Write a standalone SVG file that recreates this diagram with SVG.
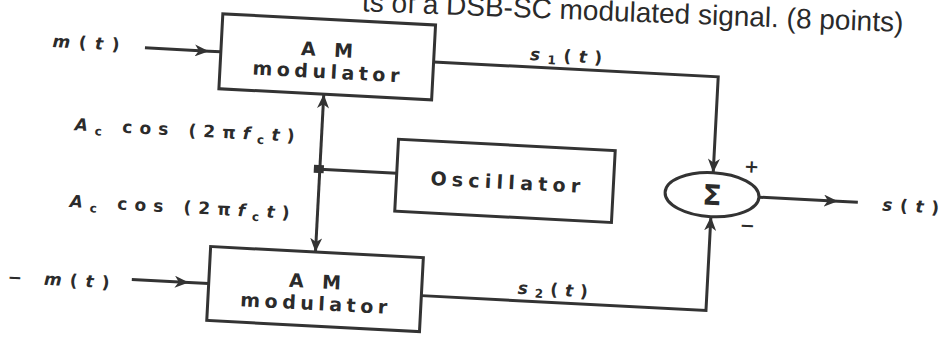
<svg xmlns="http://www.w3.org/2000/svg" width="946" height="338" viewBox="0 0 946 338">
<defs>
<style>
.box{fill:#fff;stroke:#333;stroke-width:3}
.ln{fill:none;stroke:#333;stroke-width:3}
.blk{font-family:"DejaVu Sans",sans-serif;font-weight:bold;font-size:19px;fill:#2b2b2b;text-anchor:middle}
.lbl{font-family:"DejaVu Sans",sans-serif;font-weight:bold;font-size:17px;fill:#2b2b2b;text-anchor:middle}
.it{font-style:italic}
.sub{font-size:12px}
.title{font-family:"Liberation Sans",Arial,sans-serif;font-size:28px;fill:#2a2a2a;text-anchor:end}
</style>
<marker id="arr" viewBox="0 0 14 12" refX="14" refY="6" markerWidth="14" markerHeight="12" markerUnits="userSpaceOnUse" orient="auto">
<path d="M0,0 L14,6 L0,12 L4,6 Z" fill="#333"/>
</marker>
<marker id="arrs" viewBox="0 0 14 12" refX="14" refY="6" markerWidth="14" markerHeight="12" markerUnits="userSpaceOnUse" orient="auto-start-reverse">
<path d="M0,0 L14,6 L0,12 L4,6 Z" fill="#333"/>
</marker>
</defs>
<rect width="946" height="338" fill="#fff"/>
<text class="title" x="903" y="32" transform="rotate(2.2 903 32)">ts of a DSB-SC modulated signal. (8 points)</text>
<g transform="rotate(3 470 170)">
<g id="connectors">
<path class="ln" d="M139,65 L203,65 L215,65" marker-mid="url(#arr)"/>
<path class="ln" d="M138,297 L195,297 L215,297" marker-mid="url(#arr)"/>
<path class="ln" d="M320,102 L320,260" marker-start="url(#arrs)" marker-end="url(#arrs)"/>
<path class="ln" d="M397,177 L320,177"/>
<rect x="314" y="173" width="10" height="8" fill="#333"/>
<path class="ln" d="M428,64 L713,64 L713,160" marker-end="url(#arr)"/>
<path class="ln" d="M428,298 L713,298 L713,204" marker-end="url(#arr)"/>
<path class="ln" d="M760,182 L839,182 L859,182" marker-mid="url(#arr)"/>
</g>
<g id="in1">
<text class="lbl" x="80" y="69" textLength="67" lengthAdjust="spacing"><tspan class="it">m</tspan>(<tspan class="it">t</tspan>)</text>
</g>
<g id="in2">
<text class="lbl" x="65" y="307" textLength="102" lengthAdjust="spacing">− <tspan class="it">m</tspan>(<tspan class="it">t</tspan>)</text>
</g>
<g id="am1">
<rect class="box" x="215" y="27" width="213" height="75"/>
<text class="blk" x="321" y="64" textLength="52" lengthAdjust="spacing">AM</text>
<text class="blk" x="321" y="86" textLength="147" lengthAdjust="spacing">modulator</text>
</g>
<g id="am2">
<rect class="box" x="215" y="260" width="213" height="74"/>
<text class="blk" x="321" y="296" textLength="52" lengthAdjust="spacing">AM</text>
<text class="blk" x="321" y="318" textLength="147" lengthAdjust="spacing">modulator</text>
</g>
<g id="osc">
<rect class="box" x="397" y="143" width="217" height="72"/>
<text class="blk" x="506" y="187" textLength="150" lengthAdjust="spacing">Oscillator</text>
</g>
<g id="carrier-labels">
<text class="lbl" x="183" y="151" textLength="220" lengthAdjust="spacing"><tspan class="it">A</tspan><tspan class="sub" dy="4">c</tspan><tspan dy="-4"> cos (2π</tspan><tspan class="it">f</tspan><tspan class="sub" dy="4">c</tspan><tspan class="it" dy="-4">t</tspan>)</text>
<text class="lbl" x="182" y="228" textLength="220" lengthAdjust="spacing"><tspan class="it">A</tspan><tspan class="sub" dy="4">c</tspan><tspan dy="-4"> cos (2π</tspan><tspan class="it">f</tspan><tspan class="sub" dy="4">c</tspan><tspan class="it" dy="-4">t</tspan>)</text>
</g>
<g id="sig-labels">
<text class="lbl" x="560" y="57" textLength="72" lengthAdjust="spacing"><tspan class="it">s</tspan><tspan class="sub" dy="3">1</tspan><tspan dy="-3">(</tspan><tspan class="it">t</tspan>)</text>
<text class="lbl" x="559" y="291" textLength="70" lengthAdjust="spacing"><tspan class="it">s</tspan><tspan class="sub" dy="3">2</tspan><tspan dy="-3">(</tspan><tspan class="it">t</tspan>)</text>
</g>
<g id="sum">
<ellipse class="box" cx="713" cy="182" rx="47" ry="22"/>
<text x="713" y="192" font-family="DejaVu Sans,sans-serif" font-size="28" font-weight="bold" fill="#2b2b2b" text-anchor="middle">Σ</text>
<text x="751" y="158" font-family="DejaVu Sans,sans-serif" font-size="18" font-weight="bold" fill="#2b2b2b" text-anchor="middle">+</text>
<text x="750" y="217" font-family="DejaVu Sans,sans-serif" font-size="18" font-weight="bold" fill="#2b2b2b" text-anchor="middle">−</text>
</g>
<g id="out">
<text class="lbl" x="912" y="189" textLength="57" lengthAdjust="spacing"><tspan class="it">s</tspan>(<tspan class="it">t</tspan>)</text>
</g>
</g>
</svg>
